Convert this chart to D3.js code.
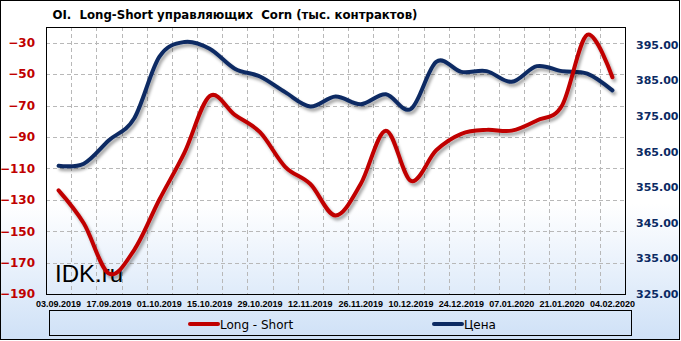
<!DOCTYPE html>
<html><head><meta charset="utf-8">
<script src="https://cdn.jsdelivr.net/npm/d3@7"></script>
<style>
html,body{margin:0;padding:0;background:#fff;}
svg{display:block;}
.title{white-space:pre;}
</style></head>
<body>
<svg id="chart" width="681" height="341"></svg>
<script>
const dates = ["03.09.2019","10.09.2019","17.09.2019","24.09.2019","01.10.2019","08.10.2019","15.10.2019","22.10.2019","29.10.2019","05.11.2019","12.11.2019","19.11.2019","26.11.2019","03.12.2019","10.12.2019","17.12.2019","24.12.2019","31.12.2019","07.01.2020","14.01.2020","21.01.2020","28.01.2020","04.02.2020"];
const longShort = [-124,-145,-177,-162,-130,-100,-64,-76,-87,-109,-120,-140,-120,-86,-118,-98.5,-88,-85.5,-86,-79.5,-70,-25,-52];
const price = [361,361.6,368.2,374.3,391.6,395.8,393.9,388.3,386.1,381.7,377.7,380.5,378.3,381.1,377,390.2,387.4,387.6,384.6,389,387.6,386.9,382.2];
const leftTicks = [-190,-170,-150,-130,-110,-90,-70,-50,-30];
const rightTicks = [325,335,345,355,365,375,385,395];
const title = "OI.  Long-Short управляющих  Corn (тыс. контрактов)";
const seriesNames = ["Long - Short","Цена"];

const svg = d3.select("#chart");
const W = 681, H = 341;
const plot = {l:46, r:625, t:27, b:294};

const defs = svg.append("defs");
const bg = defs.append("linearGradient").attr("id","bg").attr("x1",0).attr("y1",0).attr("x2",0).attr("y2",1);
bg.append("stop").attr("offset","0%").attr("stop-color","#ffffff");
bg.append("stop").attr("offset","60%").attr("stop-color","#ffffff");
bg.append("stop").attr("offset","100%").attr("stop-color","#cfe1f7");
const sh = defs.append("filter").attr("id","shadow").attr("x","-10%").attr("y","-10%").attr("width","130%").attr("height","130%");
sh.append("feDropShadow").attr("dx",2).attr("dy",3).attr("stdDeviation",1.5).attr("flood-color","#000").attr("flood-opacity",0.35);

svg.append("rect").attr("x",0.5).attr("y",0.5).attr("width",W-2).attr("height",H-2)
  .attr("fill","url(#bg)").attr("stroke","#000").attr("stroke-width",1);

const x = d3.scaleBand().domain(dates).range([plot.l, plot.r]).padding(0);
const yL = d3.scaleLinear().domain([-190,-20]).range([plot.b, plot.t]);
const yR = d3.scaleLinear().domain([325,400]).range([plot.b, plot.t]);
const cx = d => x(d) + x.bandwidth()/2;

// grid
const grid = svg.append("g").attr("stroke","#b8b8b8").attr("stroke-dasharray","4,3").attr("stroke-width",1);
leftTicks.filter(v => v > -190).forEach(v => {
  grid.append("line").attr("x1",plot.l).attr("x2",plot.r).attr("y1",Math.round(yL(v))+0.5).attr("y2",Math.round(yL(v))+0.5);
});
dates.slice(1).forEach(d => {
  const xx = Math.round(x(d))+0.5;
  grid.append("line").attr("x1",xx).attr("x2",xx).attr("y1",plot.t).attr("y2",plot.b);
});

svg.append("rect").attr("x",plot.l+0.5).attr("y",plot.t+0.5).attr("width",plot.r-plot.l).attr("height",plot.b-plot.t)
  .attr("fill","none").attr("stroke","#000").attr("stroke-width",1);

// axes
const axL = svg.append("g").attr("transform",`translate(${plot.l},0)`)
  .call(d3.axisLeft(yL).tickValues(leftTicks).tickSize(0).tickPadding(11).tickFormat(d3.format("d")));
axL.select(".domain").remove();
axL.selectAll("text").attr("fill","#c00000").attr("font-family","'DejaVu Sans',sans-serif").attr("font-weight","bold").attr("font-size","12px");

const axR = svg.append("g").attr("transform",`translate(${plot.r},0)`)
  .call(d3.axisRight(yR).tickValues(rightTicks).tickSize(0).tickPadding(11).tickFormat(d3.format(".2f")));
axR.select(".domain").remove();
axR.selectAll("text").attr("fill","#0b2a63").attr("font-family","'DejaVu Sans',sans-serif").attr("font-weight","bold").attr("font-size","11px");

const axB = svg.append("g").attr("transform",`translate(0,${plot.b})`)
  .call(d3.axisBottom(x).tickValues(dates.filter((d,i)=>i%2===0)).tickSize(0).tickPadding(7));
axB.select(".domain").remove();
axB.selectAll("text").attr("fill","#000").attr("font-family","'Liberation Sans',Arial,sans-serif").attr("font-weight","bold").attr("font-size","9px");

// watermark
svg.append("text").attr("x",55).attr("y",282).text("IDK.ru")
  .attr("font-family","'Liberation Sans',Arial,sans-serif").attr("font-size","24px").attr("fill","#000");

// lines
const curve = d3.curveCardinal.tension(0);
const lineL = d3.line().x((d,i)=>cx(dates[i])).y(d=>yL(d)).curve(curve);
const lineR = d3.line().x((d,i)=>cx(dates[i])).y(d=>yR(d)).curve(curve);
svg.append("path").attr("d",lineR(price)).attr("fill","none").attr("stroke","#0b2a63").attr("stroke-width",4).attr("stroke-linecap","round").attr("filter","url(#shadow)");
svg.append("path").attr("d",lineL(longShort)).attr("fill","none").attr("stroke","#c00000").attr("stroke-width",4).attr("stroke-linecap","round").attr("filter","url(#shadow)");

// title
svg.append("text").attr("class","title").attr("x",235).attr("y",19).attr("text-anchor","middle").text(title)
  .attr("font-family","'DejaVu Sans',sans-serif").attr("font-weight","bold").attr("font-size","12px").attr("fill","#000")
  .attr("textLength",365).attr("lengthAdjust","spacingAndGlyphs");

// legend
svg.append("rect").attr("x",49.5).attr("y",310.5).attr("width",582).attr("height",25).attr("fill","none").attr("stroke","#000");
const legCols = ["#c00000","#0b2a63"];
const legX = [190, 434];
seriesNames.forEach((n,i)=>{
  svg.append("line").attr("x1",legX[i]).attr("x2",legX[i]+28).attr("y1",324).attr("y2",324).attr("stroke",legCols[i]).attr("stroke-width",4).attr("stroke-linecap","round");
  svg.append("text").attr("x",legX[i]+30).attr("y",328.5).text(n)
    .attr("font-family","'DejaVu Sans',sans-serif").attr("font-size","12px").attr("fill","#000");
});
</script>
</body></html>
